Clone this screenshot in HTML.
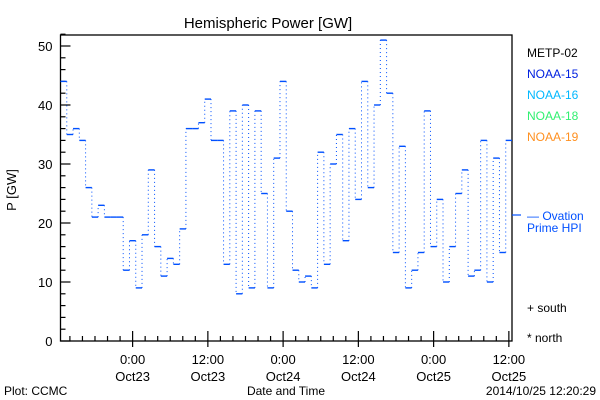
<!DOCTYPE html>
<html><head><meta charset="utf-8"><style>
body{margin:0;background:#fff}
svg{display:block;font-family:"Liberation Sans",sans-serif}
</style></head><body>
<svg width="600" height="400" viewBox="0 0 600 400">
<rect width="600" height="400" fill="#fff"/>
<text x="268" y="28" font-size="15" text-anchor="middle">Hemispheric Power [GW]</text>
<g id="axes" stroke="#000" stroke-width="1.3" fill="none"></g>
<g id="ticks" stroke="#000" stroke-width="1.2"></g>
<g id="labels" font-size="13" fill="#000"></g>
<g id="series"></g>
<text x="16" y="190" font-size="13" text-anchor="middle" transform="rotate(-90 16 190)">P [GW]</text>
<text x="286" y="395" font-size="12" text-anchor="middle">Date and Time</text>
<text x="4" y="395" font-size="12">Plot: CCMC</text>
<text x="596" y="395" font-size="12" text-anchor="end">2014/10/25 12:20:29</text>
<g font-size="12">
<text x="527" y="57" fill="#000">METP-02</text>
<text x="527" y="78" fill="#0020e0">NOAA-15</text>
<text x="527" y="99" fill="#00b8ff">NOAA-16</text>
<text x="527" y="120" fill="#30f070">NOAA-18</text>
<text x="527" y="141" fill="#ff9020">NOAA-19</text>
<line x1="512" y1="215" x2="521" y2="215" stroke="#0050ff" stroke-width="1.2"/>
<text x="527" y="220" fill="#0050ff">— Ovation</text>
<text x="527" y="232" fill="#0050ff">Prime HPI</text>
<text x="527" y="312" fill="#000">+ south</text>
<text x="527" y="342" fill="#000">* north</text>
</g>
</svg>
<script>
const values=[44,35,36,34,26,21,23,21,21,21,12,17,9,18,29,16,11,14,13,19,36,36,37,41,34,34,13,39,8,40,9,39,25,9,31,44,22,12,10,11,9,32,13,30,35,17,36,24,44,26,40,51,42,15,33,9,12,15,39,16,24,10,16,25,29,11,12,34,10,31,15,34];
const yTicks=[0,10,20,30,40,50];
const xTickHours=[0,12,24,36,48,60];
const xTickTimes=["0:00","12:00","0:00","12:00","0:00","12:00"];
const xTickDates=["Oct23","Oct23","Oct24","Oct24","Oct25","Oct25"];
const startHour=-11.5;
const L=60.5,R=512,T=35,B=341;
const NS="http://www.w3.org/2000/svg";
const y=v=>B-v*5.9;
const x=h=>L+(h-startHour)*(R-L)/values.length;
function mk(tag,attrs,parent){const e=document.createElementNS(NS,tag);for(const k in attrs)e.setAttribute(k,attrs[k]);parent.appendChild(e);return e;}
const axes=document.getElementById('axes'),ticks=document.getElementById('ticks'),labels=document.getElementById('labels'),series=document.getElementById('series');
const frame=mk('rect',{x:L,y:T,width:R-L,height:B-T},axes);


for(let v=0;v<=52;v+=2){const major=v%10===0;const t=mk('line',{x1:L,x2:L+(major?10:5),y1:y(v),y2:y(v)},ticks);

}
yTicks.forEach(v=>{const t=mk('text',{x:L-8,y:y(v)+5,'text-anchor':'end'},labels);t.textContent=v;

});
for(let h=-10;h<=60;h+=2){const major=h%12===0;const t=mk('line',{x1:x(h),x2:x(h),y1:B,y2:B-(major?10:5)},ticks);


if(major){mk('line',{x1:x(h),x2:x(h),y1:B,y2:B+6},ticks);}}
xTickHours.forEach((h,i)=>{const a=mk('text',{x:x(h),y:364,'text-anchor':'middle'},labels);a.textContent=xTickTimes[i];


const b=mk('text',{x:x(h),y:381,'text-anchor':'middle'},labels);b.textContent=xTickDates[i];

});
values.forEach((v,i)=>{const x0=x(startHour+i),x1=x(startHour+i+1);
const s=mk('line',{x1:x0,x2:x1,y1:y(v),y2:y(v),stroke:'#0050ff','stroke-width':1.4},series);


if(i<values.length-1){const d=mk('line',{x1:x1,x2:x1,y1:y(v),y2:y(values[i+1]),stroke:'#0050ff','stroke-width':1,'stroke-dasharray':'1 3'},series);

}});
</script>
</body></html>
